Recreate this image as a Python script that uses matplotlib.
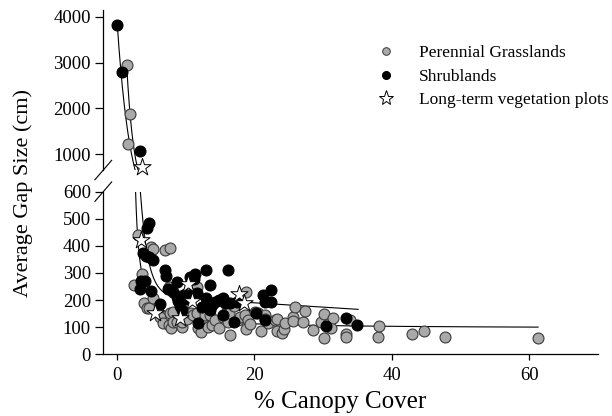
import numpy as np
import matplotlib
matplotlib.use('Agg')
import matplotlib.pyplot as plt

plt.rcParams['font.family'] = ['Liberation Serif', 'DejaVu Serif']

# Perennial grasslands: % canopy cover vs average gap size (cm)
grass_cover = [2.4, 3.0, 3.6, 3.9, 4.3, 4.7, 4.9, 5.3, 5.3, 6.0, 6.2, 6.7, 7.0, 7.7, 7.5,
               7.7, 8.2, 7.5, 7.9, 8.2, 8.7, 9.2, 9.4, 9.4, 9.9, 9.9, 10.2, 10.7, 11.1, 11.6,
               11.6, 11.8, 12.2, 12.3, 12.4, 12.8, 13.3, 13.5, 13.8, 14.2, 14.9, 15.4, 15.9,
               16.2, 16.4, 16.3, 17.1, 17.6, 17.9, 18.6, 18.8, 18.8, 19.1, 19.3, 20.1, 20.5,
               21.0, 21.5, 21.5, 22.0, 23.0, 23.3, 23.3, 24.0, 24.3, 24.4, 25.6, 25.6, 25.9,
               27.1, 27.3, 28.5, 29.7, 30.1, 30.1, 30.7, 31.2, 31.5, 33.3, 33.3, 33.9, 38.0,
               38.2, 43.0, 44.7, 47.7, 61.3]
grass_gap = [255, 439, 295, 188, 170, 172, 394, 388, 207, 157, 139, 114, 384, 391, 250,
             151, 155, 108, 96, 120, 121, 215, 102, 121, 145, 222, 129, 154, 145, 250,
             151, 96, 82, 121, 172, 145, 102, 145, 108, 126, 96, 139, 151,
             120, 71, 154, 178, 126, 139, 145, 228, 95, 126, 112, 157, 151,
             86, 145, 129, 117, 127, 132, 87, 80, 93, 114, 139, 124, 176,
             120, 160, 90, 120, 149, 61, 111, 98, 133, 74, 65, 127, 63,
             104, 74, 85, 65, 61]
grass_cover_hi = [1.4, 1.9, 1.6]
grass_gap_hi = [2950, 1880, 1225]

# Shrublands
shrub_cover = [3.3, 3.5, 4.0, 4.4, 4.7, 3.8, 4.2, 4.6, 5.3, 4.9, 6.2, 7.0, 7.2, 7.4, 8.2,
               8.7, 8.7, 8.9, 9.2, 9.4, 9.7, 10.4, 10.9, 10.6, 11.3, 11.2, 11.6, 11.8, 12.3,
               13.0, 13.0, 13.6, 13.5, 13.8, 14.2, 14.9, 15.5, 15.7, 15.5, 16.2, 16.4, 17.1,
               17.4, 20.3, 21.3, 21.5, 22.4, 22.4, 21.5, 30.4, 33.3, 35.0]
shrub_gap = [240, 270, 270, 465, 483, 372, 362, 358, 348, 232, 184, 311, 290, 240, 228,
             265, 212, 195, 178, 163, 218, 203, 221, 286, 298, 277, 225, 114, 176,
             311, 206, 255, 163, 182, 194, 200, 206, 188, 145, 311, 188, 120,
             194, 151, 219, 194, 237, 194, 126, 106, 135, 108]
shrub_cover_hi = [0.05, 0.7, 3.4]
shrub_gap_hi = [3823, 2790, 1072]

# Long-term vegetation plots
ltvp_cover = [3.5, 5.5, 9.2, 10.4, 10.9, 17.8, 18.5]
ltvp_gap = [421, 154, 135, 258, 197, 224, 188]
ltvp_cover_hi = [3.6]
ltvp_gap_hi = [707]

# fitted curves (coefficients), lower panel
grass_fit = {'a': 313, 'x0': 2.08, 'c': 95, 'xmin': 2.70, 'xmax': 61.3}
shrub_fit = {'a': 383, 'k': 0.9, 'x1': 3.4, 'c': 222, 'd': -1.6, 'xmin': 3.4, 'xmax': 35.1}
# upper panel
upper_fit_1 = {'a': 4410, 'k': 0.511, 'c': -500, 'xmin': 0.04, 'xmax': 2.7}
upper_fit_2 = {'a': 2954, 'k': 0.918, 'x1': 1.4, 'xmin': 1.4, 'xmax': 3.2}

fig = plt.figure(figsize=(6.12, 4.16), dpi=100)
ax_lo = fig.add_axes([0.1688, 0.1483, 0.808, 0.391])
ax_hi = fig.add_axes([0.1688, 0.5913, 0.808, 0.3846])

grey = '#a9a9a9'
mk = dict(s=62, linewidths=0.8, clip_on=False, zorder=3)

for ax, gx, gy, sx, sy, lx, ly in [
        (ax_lo, grass_cover, grass_gap, shrub_cover, shrub_gap, ltvp_cover, ltvp_gap),
        (ax_hi, grass_cover_hi, grass_gap_hi, shrub_cover_hi, shrub_gap_hi, ltvp_cover_hi, ltvp_gap_hi)]:
    ax.scatter(gx, gy, c=grey, edgecolors='#3a3a3a', **mk)
    ax.scatter(sx, sy, c='black', edgecolors='black', **mk)
    ax.scatter(lx, ly, marker='*', s=170, c='white', edgecolors='black',
               linewidths=0.7, clip_on=False, zorder=4)

# curves
x = np.linspace(grass_fit['xmin'], grass_fit['xmax'], 600)
ax_lo.plot(x, grass_fit['a'] / (x - grass_fit['x0']) + grass_fit['c'], color='black', lw=0.8, zorder=2)
x = np.linspace(shrub_fit['xmin'], shrub_fit['xmax'], 600)
ax_lo.plot(x, shrub_fit['c'] + shrub_fit['d'] * x +
           shrub_fit['a'] * np.exp(-shrub_fit['k'] * (x - shrub_fit['x1'])),
           color='black', lw=0.8, zorder=2)
x = np.linspace(upper_fit_1['xmin'], upper_fit_1['xmax'], 200)
ax_hi.plot(x, upper_fit_1['a'] * np.exp(-upper_fit_1['k'] * x) + upper_fit_1['c'],
           color='black', lw=0.8, zorder=2)
x = np.linspace(upper_fit_2['xmin'], upper_fit_2['xmax'], 200)
ax_hi.plot(x, upper_fit_2['a'] * np.exp(-upper_fit_2['k'] * (x - upper_fit_2['x1'])),
           color='black', lw=0.8, zorder=2)

ax_lo.set_xlim(-2, 70)
ax_lo.set_ylim(0, 600)
ax_hi.set_xlim(-2, 70)
ax_hi.set_ylim(650, 4150)

ax_lo.set_xticks([0, 20, 40, 60])
ax_lo.set_yticks([0, 100, 200, 300, 400, 500, 600])
ax_hi.set_yticks([1000, 2000, 3000, 4000])
ax_hi.set_xticks([])

for ax in (ax_lo, ax_hi):
    ax.spines['top'].set_visible(False)
    ax.spines['right'].set_visible(False)
    for s in ax.spines.values():
        s.set_linewidth(0.9)
    ax.tick_params(labelsize=13.5, width=0.9, length=6, pad=3, direction='out')
    ax.patch.set_alpha(0)
ax_hi.spines['bottom'].set_visible(False)
ax_lo.tick_params(axis='x', length=4, pad=5)

# break marks on the y axis
dx, dy = 0.0169, 0.0606
ax_hi.plot([-dx, dx], [-dy, dy], transform=ax_hi.transAxes, color='black', lw=0.8, clip_on=False)
dy2 = 0.0597
ax_lo.plot([-dx, dx], [1 - dy2, 1 + dy2], transform=ax_lo.transAxes, color='black', lw=0.8, clip_on=False)

fig.text(0.038, 0.535, 'Average Gap Size (cm)', rotation=90, ha='center', va='center', fontsize=16)
fig.text(0.556, 0.034, '% Canopy Cover', ha='center', va='center', fontsize=18)

h1 = plt.Line2D([], [], ls='none', marker='o', ms=5.5, mfc=grey, mec='#3a3a3a', mew=0.7)
h2 = plt.Line2D([], [], ls='none', marker='o', ms=5.5, mfc='black', mec='black')
h3 = plt.Line2D([], [], ls='none', marker='*', ms=11, mfc='white', mec='black', mew=0.7)
fig.legend([h1, h2, h3], ['Perennial Grasslands', 'Shrublands', 'Long-term vegetation plots'],
           loc='upper left', bbox_to_anchor=(0.614, 0.891), frameon=False, fontsize=12.5,
           handlelength=1.2, handletextpad=1.3, labelspacing=0.42, borderpad=0, borderaxespad=0)

fig.savefig('out.png', dpi=100)
